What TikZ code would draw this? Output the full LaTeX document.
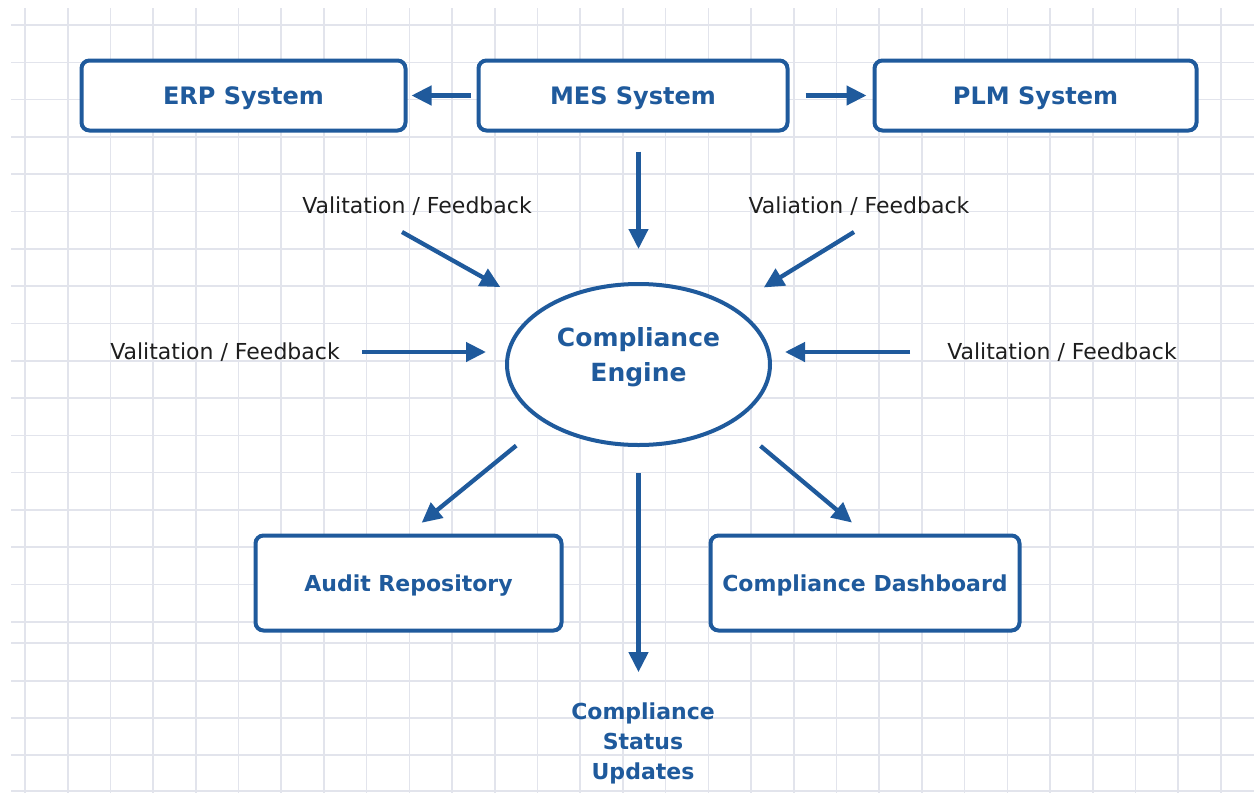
\documentclass[tikz,border=0pt]{standalone}
\usepackage{fontspec}
\setmainfont{DejaVu Sans}
\usetikzlibrary{arrows.meta,shapes.geometric}
\definecolor{flowblue}{RGB}{31,90,156}
\definecolor{gridline}{RGB}{226,228,236}
\definecolor{labelink}{RGB}{30,30,30}

\begin{document}
\begin{tikzpicture}[x=1pt,y=-1pt,
  sysbox/.style={draw=flowblue, line width=4pt, rounded corners=8pt, fill=white,
    text=flowblue, font=\bfseries\fontsize{24}{28}\selectfont,
    text depth=0pt, inner sep=0pt, minimum height=70pt},
  outbox/.style={sysbox, font=\bfseries\fontsize{22}{26}\selectfont, minimum height=95pt},
  engine/.style={ellipse, draw=flowblue, line width=4pt, fill=white, inner sep=0pt,
    minimum width=263pt, minimum height=161pt},
  bluetext/.style={text=flowblue, align=center, inner sep=0pt},
  feedback/.style={text=labelink, font=\fontsize{22}{26}\selectfont, inner sep=0pt, anchor=base},
  arr/.style={draw=flowblue, line width=4.3pt, -{Triangle[length=20pt,width=19pt]}},
  gridrule/.style={draw=gridline, line width=1.6pt}
]
\useasboundingbox (0,0) rectangle (1254,793);
\fill[white] (0,0) rectangle (1254,793);

% squared paper background
\foreach \k in {0,...,28}
  \draw[gridrule] ({25+42.71*\k},8) -- ({25+42.71*\k},793);
\foreach \k in {0,...,16}
  \draw[gridrule] (11,{25+37.3*\k}) -- (1254,{25+37.3*\k});
\foreach \y in {643,681,718,755,791}
  \draw[gridrule] (11,\y) -- (1254,\y);

% source systems
\node[sysbox, minimum width=324pt] (erp) at (243.5,95.5) {ERP System};
\node[sysbox, minimum width=309pt] (mes) at (633,95.5) {MES System};
\node[sysbox, minimum width=322pt] (plm) at (1035.5,95.5) {PLM System};

% compliance engine
\node[engine] (eng) at (638.5,364.5) {};
\node[bluetext, font=\bfseries\fontsize{25}{35}\selectfont] (engtext) at (638.5,357.6) {Compliance\\Engine};

% outputs
\node[outbox, minimum width=306pt] (audit) at (408.5,583) {Audit Repository};
\node[outbox, minimum width=309pt] (dash) at (865,583) {Compliance Dashboard};
\node[bluetext, font=\bfseries\fontsize{22}{30}\selectfont] (status) at (643,743) {Compliance\\Status\\Updates};

% feedback labels
\node[feedback] (fb-tl) at (417,213) {Valitation / Feedback};
\node[feedback] (fb-tr) at (859,213) {Valiation / Feedback};
\node[feedback] (fb-l) at (225,359) {Valitation / Feedback};
\node[feedback] (fb-r) at (1062,359) {Valitation / Feedback};

% tails of the feedback arrows
\coordinate (tl-tail) at (402,232);
\coordinate (tr-tail) at (854,232);
\coordinate (l-tail) at (362,352);
\coordinate (r-tail) at (910,352);

% MES links
\draw[arr, shorten <=6pt, shorten >=4pt] (mes.west) -- (erp.east);
\draw[arr, shorten <=16pt, shorten >=6pt] (mes.east) -- (plm.west);
\draw[arr, shorten <=19pt, shorten >=33pt] (mes.south -| eng.north) -- (eng.north);

% feedback into the engine
\draw[arr, shorten >=45pt] (tl-tail) -- (eng);
\draw[arr, shorten >=36pt] (tr-tail) -- (eng);
\draw[arr, shorten >=19pt] (l-tail) -- (l-tail -| eng.west);
\draw[arr, shorten >=13pt] (r-tail) -- (r-tail -| eng.east);

% engine outputs
\draw[arr, shorten <=36pt, shorten >=17pt] (eng.south west) -- (audit.north);
\draw[arr, shorten <=36pt, shorten >=17pt] (eng.south east) -- (dash.north);
\draw[arr, shorten <=26pt, shorten >=30pt] (eng.south) -- (eng.south |- status.north);
\end{tikzpicture}
\end{document}
